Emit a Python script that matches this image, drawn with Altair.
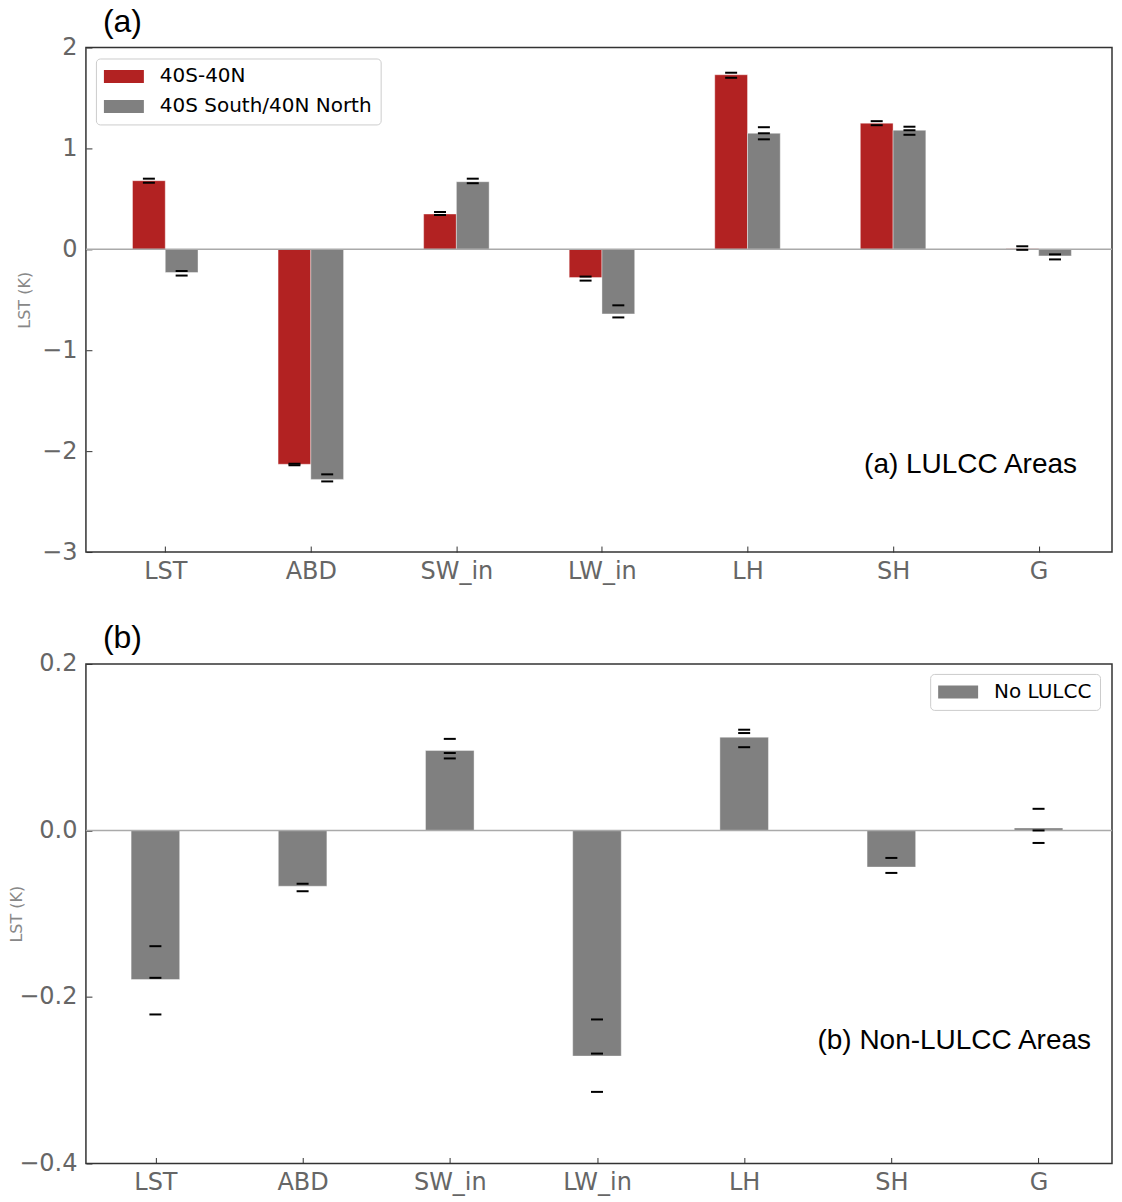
import altair as alt
import pandas as pd

categories = ["LST", "ABD", "SW_in", "LW_in", "LH", "SH", "G"]

# ---- panel (a) ----
series_a = ["40S-40N", "40S South/40N North"]
colors_a = ["#b22222", "#808080"]
a_red = [0.68, -2.13, 0.35, -0.28, 1.73, 1.25, 0.005]
a_red_low = [0.66, -2.14, 0.34, -0.31, 1.70, 1.23, -0.005]
a_red_high = [0.70, -2.125, 0.37, -0.27, 1.75, 1.27, 0.03]
a_gray = [-0.23, -2.28, 0.67, -0.64, 1.15, 1.18, -0.065]
a_gray_low = [-0.26, -2.30, 0.655, -0.675, 1.09, 1.135, -0.10]
a_gray_mid = [None, None, None, None, 1.15, 1.18, None]
a_gray_high = [-0.215, -2.23, 0.70, -0.555, 1.21, 1.215, -0.05]

# ---- panel (b) ----
series_b = ["No LULCC"]
colors_b = ["#808080"]
b_vals = [-0.179, -0.067, 0.096, -0.271, 0.112, -0.044, 0.003]
b_low = [-0.221, -0.073, 0.0865, -0.314, 0.100, -0.051, -0.015]
b_mid = [-0.177, None, 0.093, -0.268, 0.117, None, 0.0]
b_high = [-0.139, -0.064, 0.110, -0.227, 0.121, -0.033, 0.026]

W = 1027
LABEL_EXPR = "[" + ",".join("'%s'" % c for c in categories) + "][datum.value]"
TICK_FONT = "DejaVu Sans"


def x_axis():
    return alt.Axis(values=list(range(len(categories))), labelExpr=LABEL_EXPR,
                    title=None, domain=False, ticks=True, tickSize=6, offset=-6,
                    tickColor="#333333", labelPadding=7, labelFont=TICK_FONT,
                    labelFontSize=24, labelColor="#666666", grid=False)


def y_axis(vals, fmt, title_x):
    return alt.Axis(values=vals, format=fmt, title="LST (K)", domain=False,
                    ticks=True, tickSize=6, offset=-6, tickColor="#333333",
                    labelPadding=9, labelFont=TICK_FONT, labelFontSize=24,
                    labelColor="#666666", titleFont=TICK_FONT, titleFontSize=16,
                    titleColor="#888888", titleFontWeight="normal",
                    titleX=title_x, grid=False)


def legend(x, y):
    return alt.Legend(title=None, orient="none", legendX=x, legendY=y,
                      symbolType="M-2,-0.65H2V0.65H-2Z", symbolSize=400,
                      symbolOffset=10, labelOffset=26, rowPadding=10,
                      labelFont=TICK_FONT, labelFontSize=20, labelColor="black",
                      labelLimit=400, padding=8, strokeColor="#cccccc",
                      cornerRadius=4, fillColor="white", symbolStrokeWidth=0)


def panel_title(txt):
    return alt.TitleParams(txt, anchor="start", frame="group", fontSize=32,
                           font="Liberation Sans", fontWeight="normal", color="black",
                           dx=17, offset=-3)


# panel (a) data
rows_a, err_a = [], []
for i, c in enumerate(categories):
    rows_a.append({"idx": i, "s": series_a[0], "k": 0, "v": a_red[i]})
    rows_a.append({"idx": i, "s": series_a[1], "k": 1, "v": a_gray[i]})
    for v in (a_red_low[i], a_red_high[i]):
        err_a.append({"idx": i, "k": 0, "v": v})
    for v in (a_gray_low[i], a_gray_mid[i], a_gray_high[i]):
        if v is not None:
            err_a.append({"idx": i, "k": 1, "v": v})
df_a = pd.DataFrame(rows_a)
df_err_a = pd.DataFrame(err_a)

BW_A = 0.225
xs_a = alt.Scale(domain=[-0.545, 6.504], nice=False, zero=False)

bars_a = alt.Chart(df_a).mark_bar(stroke="white", strokeWidth=0.4).transform_calculate(
    x0=f"datum.idx + (datum.k == 0 ? {-BW_A} : 0)",
    x1=f"datum.idx + (datum.k == 0 ? 0 : {BW_A})",
).encode(
    x=alt.X("x0:Q", scale=xs_a, axis=x_axis()),
    x2="x1:Q",
    y=alt.Y("v:Q", scale=alt.Scale(domain=[-3, 2], nice=False),
            axis=y_axis([-3, -2, -1, 0, 1, 2], "d", -59)),
    y2=alt.datum(0),
    color=alt.Color("s:N", scale=alt.Scale(domain=series_a, range=colors_a),
                    legend=legend(10, 11)),
)
zero_a = alt.Chart(pd.DataFrame({"z": [0]})).mark_rule(color="#aaaaaa", strokeWidth=1.5).encode(y="z:Q")
err_marks_a = alt.Chart(df_err_a).mark_tick(orient="horizontal", size=12, thickness=2,
                                            color="#000000", opacity=1).transform_calculate(
    xc=f"datum.idx + (datum.k == 0 ? {-BW_A / 2} : {BW_A / 2})"
).encode(x="xc:Q", y="v:Q")
note_a = alt.Chart(pd.DataFrame({"t": ["(a) LULCC Areas"]})).mark_text(
    align="right", baseline="alphabetic", font="Liberation Sans", fontSize=28, color="black"
).encode(x=alt.value(992), y=alt.value(426), text="t:N")

panel_a = alt.layer(bars_a, zero_a, err_marks_a, note_a).properties(
    width=W, height=505, title=panel_title("(a)"))

# panel (b) data
rows_b, err_b = [], []
for i, c in enumerate(categories):
    rows_b.append({"idx": i, "s": series_b[0], "v": b_vals[i]})
    for v in (b_low[i], b_mid[i], b_high[i]):
        if v is not None:
            err_b.append({"idx": i, "v": v})
df_b = pd.DataFrame(rows_b)
df_err_b = pd.DataFrame(err_b)

BW_B = 0.33
xs_b = alt.Scale(domain=[-0.472, 6.499], nice=False, zero=False)

bars_b = alt.Chart(df_b).mark_bar(stroke="white", strokeWidth=0.4).transform_calculate(
    x0=f"datum.idx - {BW_B / 2}", x1=f"datum.idx + {BW_B / 2}"
).encode(
    x=alt.X("x0:Q", scale=xs_b, axis=x_axis()),
    x2="x1:Q",
    y=alt.Y("v:Q", scale=alt.Scale(domain=[-0.4, 0.2], nice=False),
            axis=y_axis([-0.4, -0.2, 0.0, 0.2], ".1f", -67)),
    y2=alt.datum(0),
    color=alt.Color("s:N", scale=alt.Scale(domain=series_b, range=colors_b),
                    legend=legend(845, 10)),
)
zero_b = alt.Chart(pd.DataFrame({"z": [0]})).mark_rule(color="#aaaaaa", strokeWidth=1.5).encode(y="z:Q")
err_marks_b = alt.Chart(df_err_b).mark_tick(orient="horizontal", size=12, thickness=2,
                                            color="#000000", opacity=1).encode(
    x="idx:Q", y="v:Q")
note_b = alt.Chart(pd.DataFrame({"t": ["(b) Non-LULCC Areas"]})).mark_text(
    align="right", baseline="alphabetic", font="Liberation Sans", fontSize=28, color="black"
).encode(x=alt.value(1006), y=alt.value(385), text="t:N")

panel_b = alt.layer(bars_b, zero_b, err_marks_b, note_b).properties(
    width=W, height=500, title=panel_title("(b)"))

chart = alt.vconcat(panel_a, panel_b, spacing=37).resolve_scale(
    color="independent", x="independent", y="independent"
).properties(
    padding={"left": 0, "top": -4, "right": 0, "bottom": 0},
    background="white",
).configure_view(stroke="#333333", strokeWidth=1.5)

chart.save("out.html", embed_options={"renderer": "svg", "actions": False})
